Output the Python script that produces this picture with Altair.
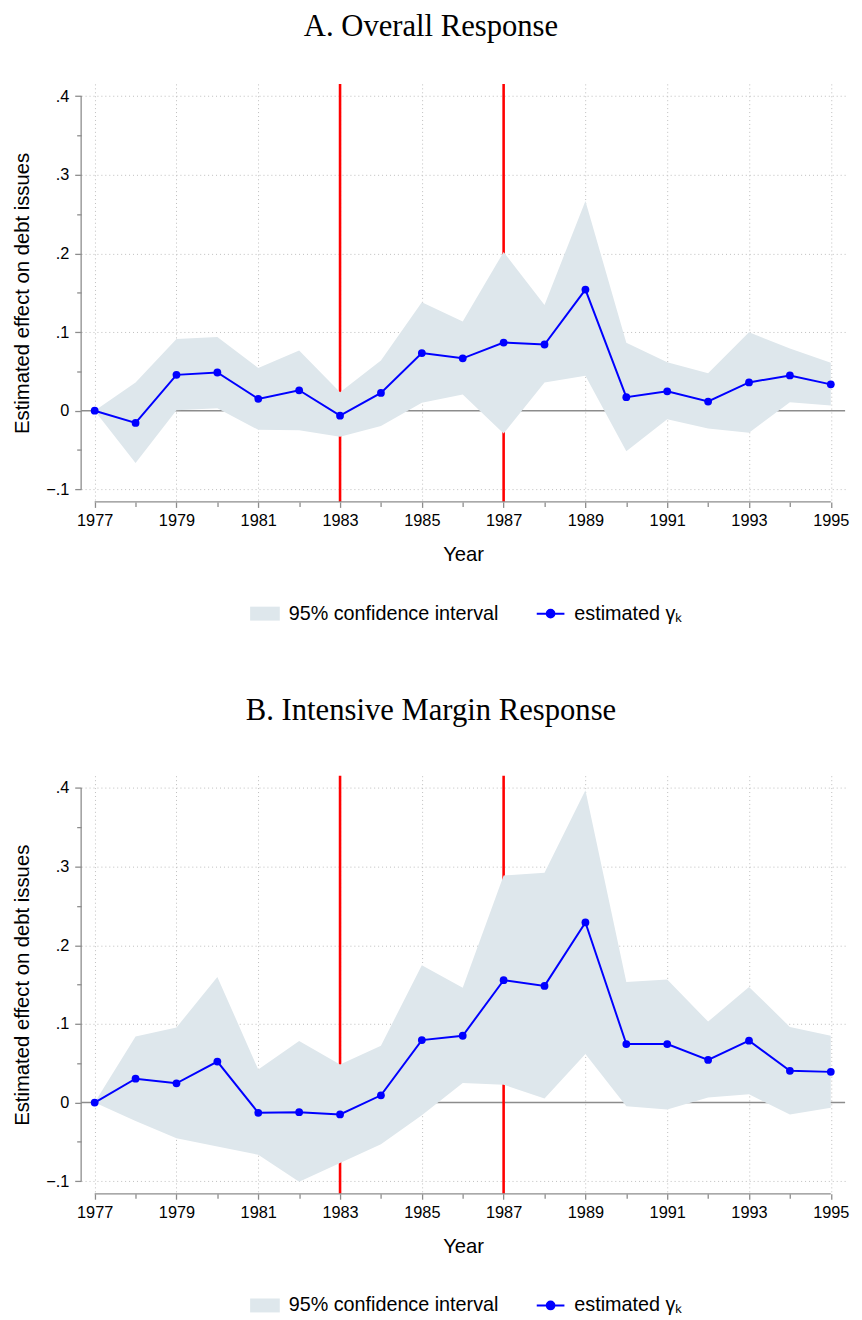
import altair as alt
import pandas as pd

# ---------------- data ----------------
years = list(range(1977, 1996))

a_est = [0.0, -0.0155, 0.0456, 0.0486, 0.0151, 0.026, -0.0063, 0.0226, 0.0733, 0.0666,
         0.0867, 0.0842, 0.154, 0.0172, 0.0247, 0.0117, 0.036, 0.0448, 0.0335]
a_upper = [0.0, 0.036, 0.0913, 0.0938, 0.0544, 0.0766, 0.0235, 0.0637, 0.1378, 0.1135,
           0.2018, 0.1344, 0.2667, 0.0863, 0.0616, 0.0477, 0.0997, 0.0791, 0.0611]
a_lower = [0.0, -0.0666, 0.0005, 0.003, -0.0243, -0.0247, -0.033, -0.0193, 0.010, 0.0205,
           -0.0289, 0.036, 0.0444, -0.0515, -0.0109, -0.0226, -0.0281, 0.0109, 0.0067]

b_est = [0.0, 0.0303, 0.0244, 0.0521, -0.013, -0.0122, -0.0151, 0.0092, 0.0794, 0.0849,
         0.1555, 0.1483, 0.229, 0.0744, 0.0744, 0.0542, 0.0786, 0.0403, 0.039]
b_upper = [0.0, 0.084, 0.0954, 0.1597, 0.042, 0.0782, 0.0483, 0.0723, 0.1744, 0.1458,
           0.2887, 0.292, 0.397, 0.1534, 0.1563, 0.1029, 0.147, 0.0962, 0.0849]
b_lower = [0.0, -0.0235, -0.0454, -0.056, -0.0664, -0.1008, -0.0769, -0.053, -0.016, 0.0248,
           0.0227, 0.005, 0.0618, -0.0046, -0.0088, 0.0063, 0.0105, -0.0151, -0.0067]

shock_years = [1983, 1987]
y_ticks = [-0.1, -0.05, 0.0, 0.05, 0.1, 0.15, 0.2, 0.25, 0.3, 0.35, 0.4]
x_ticks = years
ci_label = "95% confidence interval"
est_label = "estimated γₖ"
titles = ["A. Overall Response", "B. Intensive Margin Response"]

# ---------------- style ----------------
W, H = 773, 423
X_DOMAIN = [1976.669, 1995.35]
Y_DOMAIN = [-0.116, 0.4155]
SANS = "Liberation Sans"
SERIF = "Liberation Serif"
CI_COLOR = "#dee7ec"
BLUE = "#0000ff"
AXIS_GRAY = "#8c8c8c"

xs = alt.Scale(domain=X_DOMAIN, nice=False, zero=False)
ys = alt.Scale(domain=Y_DOMAIN, nice=False, zero=False)

MINOR_Y = "abs(round(datum.value*20)) % 2 == 1"
xaxis = alt.Axis(
    values=x_ticks, title="Year", domain=False, format="d",
    labelExpr="datum.value % 2 == 1 ? datum.label : ''",
    tickSize={"condition": {"test": "datum.value % 2 == 0", "value": 4.5}, "value": 5.5},
    gridOpacity={"condition": {"test": "datum.value % 2 == 0", "value": 0}, "value": 1},
    grid=True, gridDash=[1, 3], gridColor="#bdbdbd", gridWidth=1,
    tickColor=AXIS_GRAY, tickWidth=1.3,
    labelFont=SANS, labelFontSize=16.5, labelColor="#000", labelPadding=5,
    labelFlush=False, labelOverlap=False,
    titleFont=SANS, titleFontSize=20.5, titleFontWeight="normal", titleColor="#000",
    titlePadding=16,
)
yaxis = alt.Axis(
    values=y_ticks, title="Estimated effect on debt issues", domain=False,
    labelExpr=f"{MINOR_Y} ? '' : (datum.value == 0 ? '0' : (datum.value < 0 ? '−' : '') + replace(format(abs(datum.value), '.1f'), '0.', '.'))",
    tickSize={"condition": {"test": MINOR_Y, "value": 4.5}, "value": 6.5},
    gridOpacity={"condition": {"test": f"{MINOR_Y} || datum.value == 0", "value": 0}, "value": 1},
    grid=True, gridDash=[1, 3], gridColor="#bdbdbd", gridWidth=1,
    tickColor=AXIS_GRAY, tickWidth=1.3,
    labelFont=SANS, labelFontSize=16.5, labelColor="#000", labelPadding=6,
    labelFlush=False, labelOverlap=False,
    titleFont=SANS, titleFontSize=20.5, titleFontWeight="normal", titleColor="#000",
    titlePadding=13,
)


def X(field):
    return alt.X(field, type="quantitative", scale=xs, axis=xaxis)


def Y(field):
    return alt.Y(field, type="quantitative", scale=ys, axis=yaxis)


def panel(title, est, lo, hi, title_offset):
    df = pd.DataFrame({"year": years, "est": est, "lo": lo, "hi": hi,
                       "ci": ci_label, "series": est_label})
    zero_df = pd.DataFrame({"zero": [0.0]})
    shock_df = pd.DataFrame({"shock": shock_years})
    yline_df = pd.DataFrame({"ymin": [y_ticks[0]], "ymax": [y_ticks[-1]]})
    xline_df = pd.DataFrame({"xmin": [x_ticks[0]], "xmax": [x_ticks[-1]]})

    zero_line = alt.Chart(zero_df).mark_rule(color=AXIS_GRAY, strokeWidth=1.5).encode(
        y=Y("zero"), x=alt.value(0), x2=alt.value(W))
    shocks = alt.Chart(shock_df).mark_rule(color="#ff0000", strokeWidth=2.6).encode(
        x=X("shock"), y=alt.value(0), y2=alt.value(H))
    area = alt.Chart(df).mark_area(opacity=1).encode(
        x=X("year"), y=Y("lo"), y2="hi",
        fill=alt.Fill("ci:N", scale=alt.Scale(domain=[ci_label], range=[CI_COLOR]),
                      legend=alt.Legend(title=None, orient="none", legendX=171, legendY=521,
                                        symbolType="M-1,-0.47L1,-0.47L1,0.47L-1,0.47Z",
                                        symbolSize=900, symbolStrokeWidth=0,
                                        labelFont=SANS, labelFontSize=20, labelColor="#000",
                                        labelOffset=9, labelLimit=500)))
    yline = alt.Chart(yline_df).mark_rule(color=AXIS_GRAY, strokeWidth=1.3).encode(
        x=alt.value(0), y=Y("ymin"), y2="ymax")
    xline = alt.Chart(xline_df).mark_rule(color=AXIS_GRAY, strokeWidth=1.3).encode(
        y=alt.value(H), x=X("xmin"), x2="xmax")
    line = alt.Chart(df).mark_line(strokeWidth=2).encode(
        x=X("year"), y=Y("est"),
        stroke=alt.Stroke("series:N", scale=alt.Scale(domain=[est_label], range=[BLUE]),
                          legend=alt.Legend(title=None, orient="none", legendX=460, legendY=521,
                                            symbolType="M-1,0L1,0M-0.28,0A0.28,0.28,0,1,1,0.28,0A0.28,0.28,0,1,1,-0.28,0",
                                            symbolSize=784, symbolStrokeWidth=2,
                                            symbolFillColor=BLUE,
                                            labelFont=SANS, labelFontSize=20, labelColor="#000",
                                            labelOffset=9, labelLimit=500)))
    pts = alt.Chart(df).mark_circle(size=62, color=BLUE, opacity=1).encode(
        x=X("year"), y=Y("est"))

    return alt.layer(zero_line, shocks, area, yline, xline, line, pts).properties(
        width=W, height=H,
        title=alt.TitleParams(title, font=SERIF, fontSize=31, fontWeight="normal",
                              anchor="middle", frame="bounds", offset=title_offset,
                              color="#000"),
    )


chart = alt.vconcat(
    panel(titles[0], a_est, a_lower, a_upper, 40.5),
    panel(titles[1], b_est, b_lower, b_upper, 48),
    spacing=72,
).resolve_scale(fill="independent", stroke="independent").resolve_legend(
    fill="independent", stroke="independent"
).properties(
    padding={"left": 5, "top": -5, "right": 5, "bottom": 5}, background="white"
).configure_view(stroke=None)

chart.save("out.html", embed_options={"renderer": "svg", "actions": False})
